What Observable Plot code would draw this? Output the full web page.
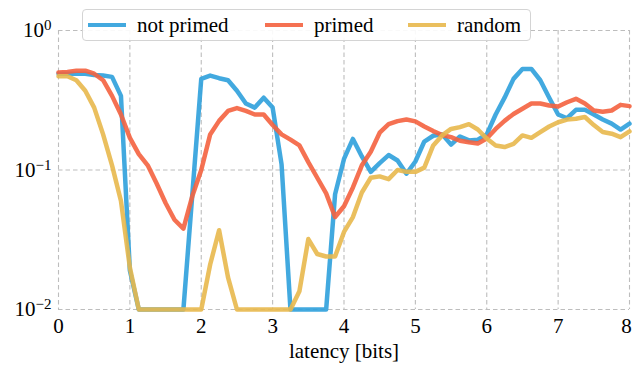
<!DOCTYPE html>
<html><head><meta charset="utf-8">
<script src="https://cdn.jsdelivr.net/npm/d3@7"></script>
<script src="https://cdn.jsdelivr.net/npm/@observablehq/plot@0.6"></script>
<style>
body{margin:0;background:#fff;}
#wrap{position:relative;width:632px;height:366px;font-family:"Liberation Serif","Times New Roman",Times,"DejaVu Serif",serif;}
#legend{position:absolute;left:82px;top:9px;width:447px;height:30px;border:1px solid #d4d4d4;border-radius:4px;background:rgba(255,255,255,0.9);font-size:21px;color:#000;}
.item{position:absolute;top:0;height:30px;display:flex;align-items:center;}
.sw{width:38px;height:4.5px;margin-right:11px;}
</style></head>
<body><div id="wrap"><div id="legend"></div></div>
<script>
const latency = [0,0.125,0.25,0.375,0.5,0.625,0.75,0.875,1,1.125,1.25,1.375,1.5,1.625,1.75,1.875,2,2.125,2.25,2.375,2.5,2.625,2.75,2.875,3,3.125,3.25,3.375,3.5,3.625,3.75,3.875,4,4.125,4.25,4.375,4.5,4.625,4.75,4.875,5,5.125,5.25,5.375,5.5,5.625,5.75,5.875,6,6.125,6.25,6.375,6.5,6.625,6.75,6.875,7,7.125,7.25,7.375,7.5,7.625,7.75,7.875,8];
const notPrimed = [0.49,0.49,0.49,0.49,0.48,0.475,0.465,0.34, 0.019,0.01,0.01,0.01,0.01,0.01,0.01,0.067, 0.45,0.475,0.455,0.44,0.37,0.30,0.28,0.33, 0.28,0.11,0.01,0.01,0.01,0.01,0.01,0.067, 0.12,0.167,0.125,0.097,0.112,0.128,0.117,0.094, 0.115,0.16,0.176,0.18,0.152,0.174,0.163,0.165, 0.18,0.25,0.33,0.45,0.53,0.53,0.44,0.33, 0.25,0.235,0.27,0.27,0.25,0.23,0.215,0.195, 0.215];
const primed = [0.50,0.505,0.515,0.515,0.49,0.44,0.34,0.25, 0.17,0.13,0.108,0.08,0.058,0.044,0.038,0.065, 0.1,0.18,0.225,0.265,0.278,0.265,0.25,0.25, 0.21,0.18,0.165,0.15,0.114,0.088,0.068,0.046, 0.055,0.075,0.108,0.135,0.185,0.213,0.224,0.23, 0.223,0.205,0.19,0.178,0.172,0.162,0.158,0.155, 0.168,0.197,0.225,0.252,0.275,0.3,0.3,0.29, 0.285,0.306,0.324,0.3,0.267,0.262,0.267,0.293, 0.287];
const random = [0.47,0.47,0.44,0.37,0.28,0.18,0.108,0.06, 0.02,0.01,0.01,0.01,0.01,0.01,0.01,0.01, 0.01,0.021,0.037,0.017,0.01,0.01,0.01,0.01, 0.01,0.01,0.01,0.0135,0.032,0.025,0.024,0.024, 0.036,0.046,0.069,0.088,0.09,0.086,0.1,0.097, 0.097,0.104,0.15,0.177,0.197,0.203,0.213,0.195, 0.168,0.15,0.146,0.154,0.177,0.17,0.187,0.205, 0.22,0.23,0.233,0.24,0.21,0.187,0.182,0.172, 0.189];
const seriesNames = ["not primed", "primed", "random"];
const seriesColors = ["#2ea0dc", "#f4623f", "#e8b84c"];
const xTicks = [0,1,2,3,4,5,6,7,8];
const yTicks = [1, 0.1, 0.01];
const yTickLabels = ["10^0", "10^\u22121", "10^\u22122"];
const xLabel = "latency [bits]";

const FONT = "'Liberation Serif', 'Times New Roman', Times, 'DejaVu Serif', serif";
const seriesValues = [notPrimed, primed, random];
const data = seriesNames.flatMap((name, k) => latency.map((x, i) => ({x, y: seriesValues[k][i], series: name})));

const chart = Plot.plot({
  width: 632, height: 366,
  marginLeft: 58, marginRight: 3, marginTop: 30, marginBottom: 57,
  style: {fontFamily: FONT, fontSize: "21px", background: "white", color: "black", overflow: "visible"},
  x: {domain: [0, 8]},
  y: {type: "log", domain: [0.01, 1]},
  marks: [
    Plot.gridX(xTicks, {stroke: "#bdbdbd", strokeOpacity: 1, strokeWidth: 1.1, strokeDasharray: "4.5,3"}),
    Plot.gridY(yTicks, {stroke: "#bdbdbd", strokeOpacity: 1, strokeWidth: 1.1, strokeDasharray: "4.5,3"}),
    Plot.axisX(xTicks, {tickSize: 0, tickPadding: 9, fontSize: 21, label: null, tickFormat: d => String(d)}),
    Plot.axisY(yTicks, {tickSize: 0, tickPadding: 7, fontSize: 21, label: null, tickFormat: d => yTickLabels[yTicks.indexOf(d)]}),
    Plot.text([xLabel], {frameAnchor: "bottom", text: d => d, lineAnchor: "bottom", dy: 48, fontSize: 21}),
    ...seriesNames.map((name, k) => Plot.line(data.filter(d => d.series === name), {x: "x", y: "y", stroke: seriesColors[k], strokeWidth: 4.5, strokeOpacity: 0.9, strokeLinejoin: "round"}))
  ]
});
chart.querySelectorAll("text").forEach(t => t.setAttribute("font-family", FONT));
chart.setAttribute("font-family", FONT);

// keep the last x tick label inside the window
d3.select(chart).selectAll('[aria-label="x-axis tick label"] text').each(function() {
  if (this.textContent === String(xTicks[xTicks.length - 1])) this.setAttribute("dx", "-3");
});

// superscript exponents in y tick labels
d3.select(chart).selectAll('[aria-label="y-axis tick label"] text').each(function() {
  const s = this.textContent;
  const parts = s.split("^");
  if (parts.length !== 2) return;
  const t = d3.select(this);
  t.text(null);
  t.append("tspan").text(parts[0]);
  t.append("tspan").attr("dy", "-0.45em").attr("font-size", "15px").text(parts[1]);
});

document.getElementById("wrap").appendChild(chart);
chart.style.position = "absolute"; chart.style.left = "0"; chart.style.top = "0";
const legend = document.getElementById("legend");
document.getElementById("wrap").appendChild(legend);
const offsets = [5, 182, 325];
seriesNames.forEach((name, k) => {
  const item = document.createElement("div");
  item.className = "item";
  item.style.left = offsets[k] + "px";
  const sw = document.createElement("div");
  sw.className = "sw";
  sw.style.background = seriesColors[k];
  sw.style.opacity = 0.9;
  item.appendChild(sw);
  const lab = document.createElement("span");
  lab.textContent = name;
  item.appendChild(lab);
  legend.appendChild(item);
});
</script>
</body></html>
